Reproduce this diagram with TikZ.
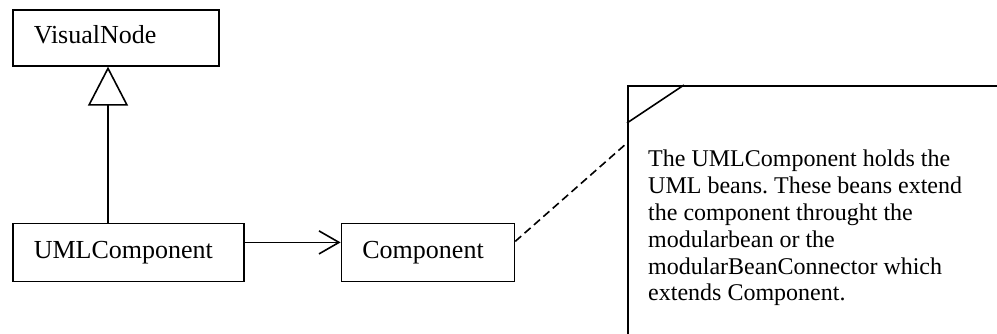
\documentclass[tikz,border=0pt]{standalone}
\usepackage{fontspec}
\setmainfont{Liberation Serif}
\frenchspacing
\usetikzlibrary{
  arrows.meta,
  positioning
}

\begin{document}
\begin{tikzpicture}[x=1pt, y=-1pt,
    classbox/.style={draw, line width=1.6pt, inner xsep=21pt, inner ysep=0pt,
      align=left, text height=17pt, text depth=5.5pt,
      font=\fontsize{26}{28}\selectfont},
    notebox/.style={draw, line width=1.6pt, anchor=north west,
      minimum width=420pt, minimum height=300pt},
    notetext/.style={anchor=north west, inner sep=0pt, align=left,
      font=\fontsize{24}{26.8}\selectfont},
    inherit/.style={line width=1.6pt, -{Triangle[open, length=39pt, width=40pt]}},
    assoc/.style={line width=1.6pt, -{Straight Barb[length=20pt, width=23pt]}},
    noteline/.style={line width=1.6pt, dash pattern=on 8pt off 4.5pt}]
  \def\Xl{12};
  \def\Yt{9};
  \useasboundingbox (0,0) rectangle (997,333);
  \clip (0,0) rectangle (997,333);

  % classes
  \node[classbox, anchor=north west, minimum width=206pt, text width=164pt,
        minimum height=56pt] (visual) at (\Xl, \Yt) {VisualNode};
  \node[classbox, below=156pt of visual.south west, anchor=north west,
        minimum width=231pt, text width=189pt, minimum height=58pt] (uml) {UMLComponent};
  \node[classbox, right=96pt of uml, minimum width=173pt, text width=131pt,
        minimum height=58pt] (comp) {Component};

  % note
  \node[notebox] (note) at (627, 85) {};
  \draw[line width=1.6pt] ([yshift=-38pt]note.north west) -- ([xshift=57pt]note.north west);
  \node[notetext] (notetext) at ([xshift=21pt, yshift=-65pt]note.north west)
    {The UMLComponent holds the\\
     UML beans. These beans extend\\
     the component throught the\\
     modularbean or the\\
     modularBeanConnector which\\
     extends Component.};
  \coordinate (notein) at ([yshift=-58pt]note.north west);

  % connectors
  \draw[inherit] ([xshift=96pt]uml.north west) -- ([xshift=96pt]visual.south west);
  \draw[assoc] ([yshift=10pt]uml.east) -- ([yshift=10pt]comp.west);
  \draw[noteline] ([yshift=11pt]comp.east) -- (notein);
\end{tikzpicture}
\end{document}
